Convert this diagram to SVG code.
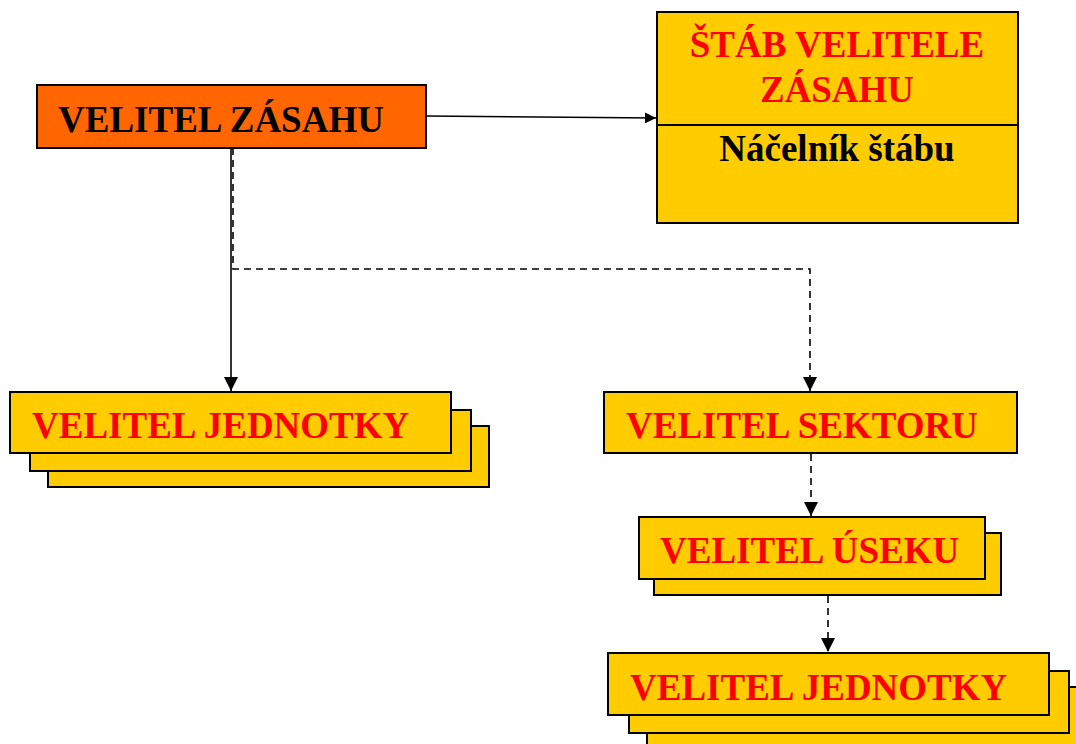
<svg xmlns="http://www.w3.org/2000/svg" width="1076" height="744" viewBox="0 0 1076 744">
  <style>
    .box { stroke: #000; stroke-width: 2; }
    .orange { fill: #FF6600; }
    .yellow { fill: #FFCC00; }
    .lbl { font-family: "Liberation Serif", "Times New Roman", serif; font-weight: bold; font-size: 37px; }
    .red { fill: #FF0000; }
    .blk { fill: #000; }
    .wire { fill: none; stroke: #000; stroke-width: 1.6; }
    .dash { stroke-dasharray: 7 5; }
  </style>
  <defs>
    <marker id="arrow" viewBox="0 0 10 10" refX="10" refY="5" markerWidth="14" markerHeight="14" markerUnits="userSpaceOnUse" orient="auto">
      <path d="M0,0 L10,5 L0,10 z" fill="#000"/>
    </marker>
    <marker id="arrow-s" viewBox="0 0 10 10" refX="10" refY="5" markerWidth="12" markerHeight="11" markerUnits="userSpaceOnUse" orient="auto">
      <path d="M0,0 L10,5 L0,10 z" fill="#000"/>
    </marker>
  </defs>
  <rect width="1076" height="744" fill="#fff"/>

  <!-- connectors -->
  <g id="connectors">
    <path class="wire" d="M426,116 L656,118" marker-end="url(#arrow-s)" style="stroke-width:1.4"/>
    <path class="wire" d="M231,148 L231,391" marker-end="url(#arrow)"/>
    <path class="wire dash" d="M233,148 L233,269 L810,269 L810,391" marker-end="url(#arrow)"/>
    <path class="wire dash" d="M811,454 L811,516" marker-end="url(#arrow)"/>
    <path class="wire dash" d="M828,596 L828,652" marker-end="url(#arrow)"/>
  </g>

  <!-- commander -->
  <g id="velitel-zasahu">
    <rect class="box orange" x="37" y="85" width="389" height="63"/>
    <text class="lbl blk" x="58" y="132">VELITEL ZÁSAHU</text>
  </g>

  <!-- staff -->
  <g id="stab">
    <rect class="box yellow" x="657" y="12" width="361" height="211"/>
    <line x1="657" y1="125" x2="1018" y2="125" stroke="#000" stroke-width="2"/>
    <text class="lbl red" x="837" y="57" text-anchor="middle">ŠTÁB VELITELE</text>
    <text class="lbl red" x="837" y="102" text-anchor="middle">ZÁSAHU</text>
    <text class="lbl blk" x="837" y="161" text-anchor="middle">Náčelník štábu</text>
  </g>

  <!-- unit commanders, left -->
  <g id="velitel-jednotky-1">
    <rect class="box yellow" x="48" y="426" width="441" height="61"/>
    <rect class="box yellow" x="30" y="410" width="441" height="61"/>
    <rect class="box yellow" x="10" y="392" width="441" height="61"/>
    <text class="lbl red" x="32" y="438">VELITEL JEDNOTKY</text>
  </g>

  <!-- sector commander -->
  <g id="velitel-sektoru">
    <rect class="box yellow" x="604" y="392" width="413" height="61"/>
    <text class="lbl red" x="626" y="438">VELITEL SEKTORU</text>
  </g>

  <!-- section commanders -->
  <g id="velitel-useku">
    <rect class="box yellow" x="654" y="533" width="347" height="62"/>
    <rect class="box yellow" x="639" y="517" width="346" height="62"/>
    <text class="lbl red" x="660" y="563">VELITEL ÚSEKU</text>
  </g>

  <!-- unit commanders, right -->
  <g id="velitel-jednotky-2">
    <rect class="box yellow" x="647" y="687" width="441" height="70"/>
    <rect class="box yellow" x="629" y="671" width="440" height="62"/>
    <rect class="box yellow" x="608" y="653" width="441" height="62"/>
    <text class="lbl red" x="630" y="700">VELITEL JEDNOTKY</text>
  </g>
</svg>
